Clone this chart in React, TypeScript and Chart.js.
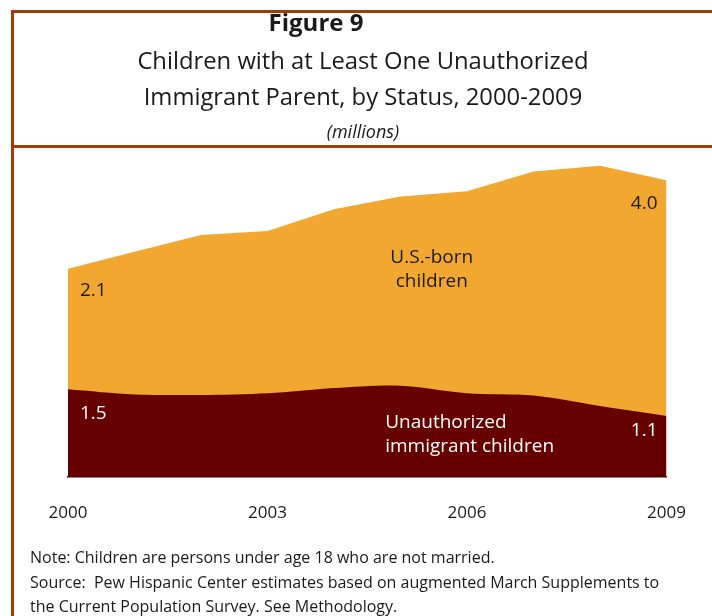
import React, { useEffect, useRef } from "react";
import { Chart, registerables } from "chart.js";

Chart.register(...registerables);

const years = ["2000", "2001", "2002", "2003", "2004", "2005", "2006", "2007", "2008", "2009"];
const tickLabels = ["2000", "2003", "2006", "2009"];
const unauthorized = [1.51, 1.42, 1.41, 1.44, 1.53, 1.57, 1.44, 1.4, 1.22, 1.05];
const usBorn = [2.07, 2.45, 2.75, 2.79, 3.07, 3.25, 3.47, 3.85, 4.13, 4.05];
const endLabelsUnauth = ["1.5", "1.1"];
const endLabelsUsBorn = ["2.1", "4.0"];

const FONT = "'Open Sans', 'Noto Sans', sans-serif";
const FRAME = "#A33A0A";

const labelPlugin = {
  id: "areaLabels",
  afterDatasetsDraw(chart: any) {
    const { ctx, scales } = chart;
    const x = scales.x;
    const y = scales.y;
    const n = years.length;
    ctx.save();
    ctx.font = `19px ${FONT}`;
    ctx.textBaseline = "middle";
    const x0 = x.getPixelForValue(0);
    const xN = x.getPixelForValue(n - 1);
    ctx.textAlign = "left";
    ctx.fillStyle = "#1a1a1a";
    ctx.fillText(endLabelsUsBorn[0], x0 + 12, y.getPixelForValue(unauthorized[0] + usBorn[0]) + 22);
    ctx.fillStyle = "#ffffff";
    ctx.fillText(endLabelsUnauth[0], x0 + 12, y.getPixelForValue(unauthorized[0]) + 24);
    ctx.textAlign = "right";
    ctx.fillStyle = "#1a1a1a";
    ctx.fillText(endLabelsUsBorn[1], xN - 9, y.getPixelForValue(unauthorized[n - 1] + usBorn[n - 1]) + 23);
    ctx.fillStyle = "#ffffff";
    ctx.fillText(endLabelsUnauth[1], xN - 9, y.getPixelForValue(unauthorized[n - 1]) + 15);
    ctx.textAlign = "center";
    ctx.fillStyle = "#1a1a1a";
    const xm = x.getPixelForValue(5.5);
    ctx.fillText("U.S.-born", xm - 2, y.getPixelForValue(3.77));
    ctx.fillText("children", xm - 2, y.getPixelForValue(3.36));
    ctx.textAlign = "left";
    ctx.fillStyle = "#ffffff";
    const xu = x.getPixelForValue(4.77);
    ctx.fillText("Unauthorized", xu, y.getPixelForValue(0.93));
    ctx.fillText("immigrant children", xu, y.getPixelForValue(0.52));
    ctx.restore();
  },
};

export default function App() {
  const ref = useRef<HTMLCanvasElement>(null);

  useEffect(() => {
    if (!ref.current) return;
    const chart = new Chart(ref.current, {
      type: "line",
      data: {
        labels: years,
        datasets: [
          {
            label: "Unauthorized immigrant children",
            data: unauthorized,
            backgroundColor: "#660000",
            borderColor: "#660000",
            borderWidth: 0,
            pointRadius: 0,
            fill: "origin",
            tension: 0.3,
          },
          {
            label: "U.S.-born children",
            data: usBorn,
            backgroundColor: "#F2A830",
            borderColor: "#F2A830",
            borderWidth: 0,
            pointRadius: 0,
            fill: "origin",
            tension: 0,
          },
        ],
      },
      options: {
        animation: false,
        responsive: false,
        maintainAspectRatio: false,
        layout: { padding: { left: 68, right: 43, top: 150, bottom: 89 } },
        plugins: { legend: { display: false }, tooltip: { enabled: false } },
        scales: {
          x: {
            grid: { display: false, drawTicks: false },
            border: { display: true, color: "#111", width: 1.5 },
            afterFit: (s: any) => {
              s.height = 50;
            },
            ticks: {
              autoSkip: false,
              maxRotation: 0,
              padding: 26,
              color: "#1a1a1a",
              font: { family: FONT, size: 17 },
              callback: (_v: any, i: number) => (tickLabels.includes(years[i]) ? years[i] : ""),
            },
          },
          y: {
            display: false,
            stacked: true,
            min: 0,
            max: 5.62,
          },
        },
      },
      plugins: [labelPlugin],
    });
    return () => chart.destroy();
  }, []);

  const abs = (s: React.CSSProperties): React.CSSProperties => ({ position: "absolute", ...s });

  return (
    <div style={{ position: "absolute", left: 0, top: 0, width: 712, height: 616, overflow: "hidden", background: "#fff", fontFamily: FONT, color: "#1a1a1a" }}>
      <canvas ref={ref} width={712} height={616} style={abs({ left: 0, top: 0, width: 712, height: 616 })} />
      <div style={abs({ left: 11, top: 10, width: 701, height: 3, background: FRAME })} />
      <div style={abs({ left: 11, top: 10, width: 3, height: 606, background: FRAME })} />
      <div style={abs({ left: 11, top: 145, width: 701, height: 3, background: FRAME })} />
      <div style={abs({ left: 166, top: 6, width: 300, textAlign: "center", fontSize: 24, fontWeight: 700, lineHeight: "32px" })}>Figure 9</div>
      <div style={abs({ left: 13, top: 43, width: 700, textAlign: "center", fontSize: 23.8, lineHeight: "34px" })}>Children with at Least One Unauthorized</div>
      <div style={abs({ left: 13, top: 79, width: 700, textAlign: "center", fontSize: 23.8, lineHeight: "34px" })}>Immigrant Parent, by Status, 2000-2009</div>
      <div style={abs({ left: 263, top: 118, width: 200, textAlign: "center", fontSize: 18, fontStyle: "italic", lineHeight: "26px" })}>(millions)</div>
      <div style={abs({ left: 30, top: 545, width: 690, fontSize: 16, lineHeight: "24.5px", whiteSpace: "pre" })}>
        {"Note: Children are persons under age 18 who are not married.\nSource:  Pew Hispanic Center estimates based on augmented March Supplements to\nthe Current Population Survey. See Methodology."}
      </div>
    </div>
  );
}
